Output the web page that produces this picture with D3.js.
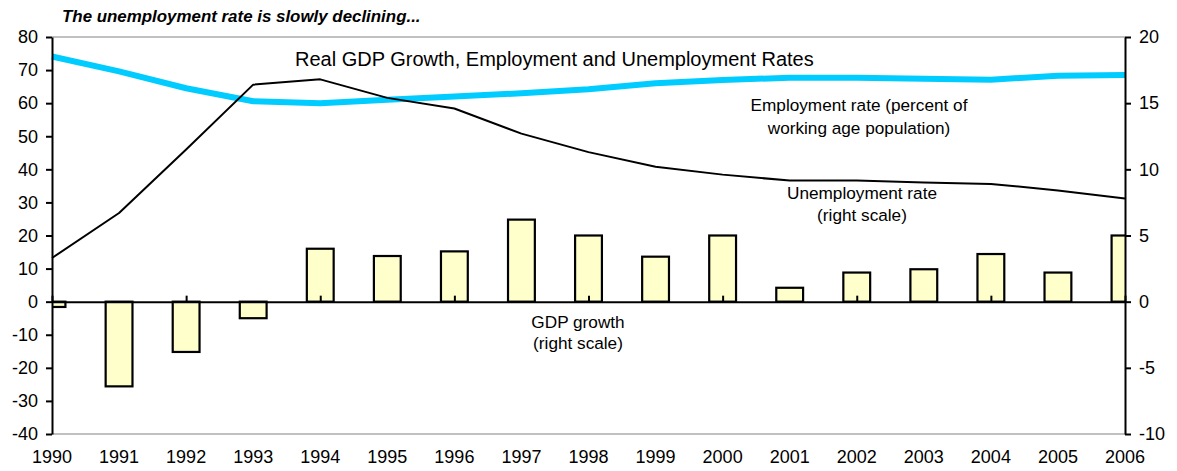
<!DOCTYPE html>
<html>
<head>
<meta charset="utf-8">
<script src="https://cdn.jsdelivr.net/npm/d3@7/dist/d3.min.js"></script>
<style>
  html, body { margin: 0; padding: 0; background: #fff; }
  svg { display: block; font-family: "Liberation Sans", Arial, sans-serif; }
</style>
</head>
<body>
<svg id="chart" width="1177" height="471"></svg>
<script>
// Years on the category axis
const years = ["1990","1991","1992","1993","1994","1995","1996","1997","1998",
               "1999","2000","2001","2002","2003","2004","2005","2006"];

// Employment rate, percent of working age population (left scale)
const employmentRate = [74.1, 69.6, 64.5, 60.6, 60.0, 61.0, 62.0, 63.0, 64.2,
                        66.0, 67.0, 67.7, 67.7, 67.4, 67.1, 68.3, 68.5];

// Unemployment rate, percent (right scale)
const unemploymentRate = [3.3, 6.7, 11.5, 16.4, 16.8, 15.4, 14.6, 12.7, 11.3,
                          10.2, 9.6, 9.15, 9.15, 9.0, 8.9, 8.4, 7.8];

// Real GDP growth, percent (right scale)
const gdpGrowth = [-0.4, -6.4, -3.8, -1.25, 4.0, 3.45, 3.8, 6.2, 5.0,
                   3.4, 5.0, 1.05, 2.2, 2.45, 3.6, 2.2, 5.0];

const leftTicks = [-40, -30, -20, -10, 0, 10, 20, 30, 40, 50, 60, 70, 80];
const rightTicks = [-10, -5, 0, 5, 10, 15, 20];

const svg = d3.select("#chart");
const plot = { left: 52, right: 1125, top: 37, bottom: 434 };

const x = d3.scalePoint().domain(years).range([plot.left, plot.right]);
const yL = d3.scaleLinear().domain([-40, 80]).range([plot.bottom, plot.top]);
const yR = d3.scaleLinear().domain([-10, 20]).range([plot.bottom, plot.top]);
const barW = x.step() * 0.4;

svg.append("defs").append("clipPath").attr("id", "plotClip")
  .append("rect")
  .attr("x", plot.left).attr("y", plot.top)
  .attr("width", plot.right - plot.left).attr("height", plot.bottom - plot.top);

// Horizontal border lines at the top and bottom of the plot
svg.append("g").selectAll("line").data([80, -40]).join("line")
  .attr("x1", plot.left).attr("x2", plot.right)
  .attr("y1", d => yL(d)).attr("y2", d => yL(d))
  .attr("stroke", "#c0c0c0").attr("stroke-width", 2);

// GDP growth bars
svg.append("g").attr("clip-path", "url(#plotClip)")
  .selectAll("rect").data(years).join("rect")
  .attr("x", d => x(d) - barW / 2)
  .attr("width", barW)
  .attr("y", (d, i) => yR(Math.max(0, gdpGrowth[i])))
  .attr("height", (d, i) => Math.abs(yR(gdpGrowth[i]) - yR(0)))
  .attr("fill", "#ffffcc")
  .attr("stroke", "#000")
  .attr("stroke-width", 2.2);

// Category axis along the zero line, ticks every other year pointing up
const xAxis = d3.axisTop(x)
  .tickValues(years.filter((d, i) => i % 2 === 0))
  .tickSize(6).tickSizeOuter(0).tickFormat("");
svg.append("g")
  .attr("transform", `translate(0,${yR(0)})`)
  .call(xAxis)
  .call(g => g.selectAll("path, line").attr("stroke", "#000").attr("stroke-width", 2));

// Employment rate line
svg.append("path")
  .datum(employmentRate)
  .attr("d", d3.line().x((d, i) => x(years[i])).y(d => yL(d)))
  .attr("fill", "none")
  .attr("stroke", "#00ccff")
  .attr("stroke-width", 6)
  .attr("stroke-linejoin", "round");

// Unemployment rate line
svg.append("path")
  .datum(unemploymentRate)
  .attr("d", d3.line().x((d, i) => x(years[i])).y(d => yR(d)))
  .attr("fill", "none")
  .attr("stroke", "#000")
  .attr("stroke-width", 2)
  .attr("stroke-linejoin", "round");

// Plain hyphen for negative tick labels
const plainFmt = d => String(d);

// Left axis
const left = svg.append("g")
  .attr("transform", `translate(${plot.left},0)`)
  .call(d3.axisLeft(yL).tickValues(leftTicks).tickFormat(plainFmt)
    .tickSize(6).tickSizeOuter(0).tickPadding(8));
left.selectAll("path, line").attr("stroke", "#000").attr("stroke-width", 2);
left.selectAll("text").attr("font-size", 18).attr("fill", "#000")
  .attr("font-family", "'Liberation Sans', Arial, sans-serif");

// Right axis
const right = svg.append("g")
  .attr("transform", `translate(${plot.right},0)`)
  .call(d3.axisRight(yR).tickValues(rightTicks).tickFormat(plainFmt)
    .tickSize(6).tickSizeOuter(0).tickPadding(8));
right.selectAll("path, line").attr("stroke", "#000").attr("stroke-width", 2);
right.selectAll("text").attr("font-size", 18).attr("fill", "#000")
  .attr("font-family", "'Liberation Sans', Arial, sans-serif");

// Year labels under the plot
svg.append("g").selectAll("text").data(years).join("text")
  .attr("x", d => x(d))
  .attr("y", 463)
  .attr("text-anchor", "middle")
  .attr("font-size", 18)
  .text(d => d);

// Headline
svg.append("text")
  .attr("x", 62).attr("y", 22)
  .attr("font-size", 16.9)
  .attr("font-weight", "bold")
  .attr("font-style", "italic")
  .text("The unemployment rate is slowly declining...");

// Chart title
svg.append("text")
  .attr("x", 295).attr("y", 66)
  .attr("font-size", 20)
  .text("Real GDP Growth, Employment and Unemployment Rates");

// Series annotations
const notes = [
  { x: 859, y: 111, lines: ["Employment rate (percent of", "working age population)"], gap: 23 },
  { x: 862, y: 199, lines: ["Unemployment rate", "(right scale)"], gap: 22 },
  { x: 578, y: 328, lines: ["GDP growth", "(right scale)"], gap: 21 }
];
notes.forEach(n => {
  svg.append("g").selectAll("text").data(n.lines).join("text")
    .attr("x", n.x)
    .attr("y", (d, i) => n.y + i * n.gap)
    .attr("text-anchor", "middle")
    .attr("font-size", 17.2)
    .text(d => d);
});
</script>
</body>
</html>
